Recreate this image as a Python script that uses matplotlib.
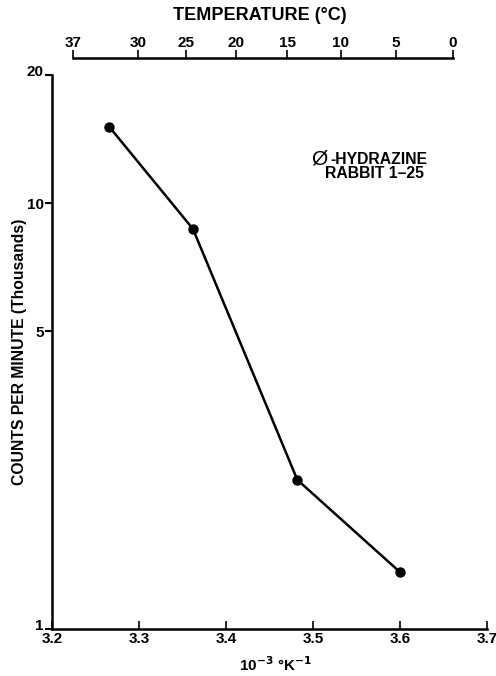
import numpy as np
import matplotlib
matplotlib.use('Agg')
import matplotlib.pyplot as plt
import matplotlib.transforms as mtransforms

# data (x in 10^-3 K^-1, counts in thousands)
inv_temp = [3.266, 3.362, 3.482, 3.600]
counts = [15.1, 8.7, 2.24, 1.36]

x_ticks = [3.2, 3.3, 3.4, 3.5, 3.6, 3.7]
y_ticks = [1, 5, 10, 20]
temp_ticks = [37, 30, 25, 20, 15, 10, 5, 0]

plt.rcParams['font.family'] = ['Liberation Sans', 'DejaVu Sans']
plt.rcParams['font.weight'] = 'bold'

W, H = 496, 676
fig = plt.figure(figsize=(W / 100, H / 100), dpi=100)

# main axes, positions in pixels of the reference
left, right, top, bottom = 52, 487, 75, 629
ax = fig.add_axes([left / W, 1 - bottom / H, (right - left) / W, (bottom - top) / H])
ax.plot(inv_temp, counts, color='black', lw=1.8, marker='o', ms=6.5,
        markerfacecolor='black', markeredgecolor='black', zorder=3)

ax.set_yscale('log')
ax.set_xlim(3.2, 3.7)
ax.set_ylim(1, 20)
ax.set_xticks(x_ticks)
ax.set_xticklabels([f'{v:.1f}' for v in x_ticks], fontsize=11, fontweight='bold')
ax.set_yticks(y_ticks)
ax.set_yticklabels([str(v) for v in y_ticks], fontsize=11, fontweight='bold')
ax.yaxis.set_minor_locator(matplotlib.ticker.NullLocator())
ax.tick_params(axis='x', direction='in', length=6, width=1.2, pad=2)
ax.tick_params(axis='y', direction='out', length=5, width=1.5, pad=1)

# the end labels (1 and 20) sit a little above their ticks in the original
shift = mtransforms.ScaledTranslation(0, 5 / 100, fig.dpi_scale_trans)
for lab, v in zip(ax.get_yticklabels(), y_ticks):
    if v in (1, 20):
        lab.set_transform(lab.get_transform() + shift)

for s in ['top', 'right']:
    ax.spines[s].set_visible(False)
for s in ['left', 'bottom']:
    ax.spines[s].set_linewidth(1.8)

ax.set_xlabel(r'10$^{-3}$ °K$^{-1}$', fontsize=11, fontweight='bold')
ax.xaxis.set_label_coords((276 - left) / (right - left), -(676 - bottom - 2) / (bottom - top))
ax.xaxis.label.set_va('bottom')
ax.set_ylabel('COUNTS PER MINUTE (Thousands)', fontsize=11.3, fontweight='bold')
ax.yaxis.set_label_coords((27 - left) / (right - left), (bottom - 352) / (bottom - top))

# temperature axis at the top, drawn as a separate line
top_y = 58
tax = fig.add_axes([left / W, 1 - top_y / H, (right - left) / W, 0.0001])
tax.set_xlim(3.2, 3.7)
tax.set_ylim(0, 1)
tpos = [1000.0 / (t + 273.15) for t in temp_ticks]
tax.set_xticks(tpos)
tax.set_xticklabels([str(t) for t in temp_ticks], fontsize=11, fontweight='bold')
tax.set_yticks([])
for s in ['left', 'right', 'top', 'bottom']:
    tax.spines[s].set_visible(False)
tax.xaxis.tick_top()
tax.tick_params(axis='x', direction='out', length=6, width=1.2, pad=0,
                bottom=False, top=True, labelbottom=False, labeltop=True)
tax.plot([min(tpos), max(tpos)], [0, 0], color='black', lw=1.8, clip_on=False)

fig.text(260 / W, 1 - 16 / H, 'TEMPERATURE (°C)', fontsize=13, fontweight='bold',
         ha='center', va='center')

# annotation
fig.text(311 / W, 1 - 159 / H, 'Ø', fontsize=15, fontweight='normal',
         ha='left', va='center')
fig.text(330 / W, 1 - 160 / H, '-HYDRAZINE', fontsize=11.3, fontweight='bold',
         ha='left', va='center')
fig.text(325 / W, 1 - 174 / H, 'RABBIT 1–25', fontsize=11.3, fontweight='bold',
         ha='left', va='center')

fig.savefig('out.png', dpi=100)
